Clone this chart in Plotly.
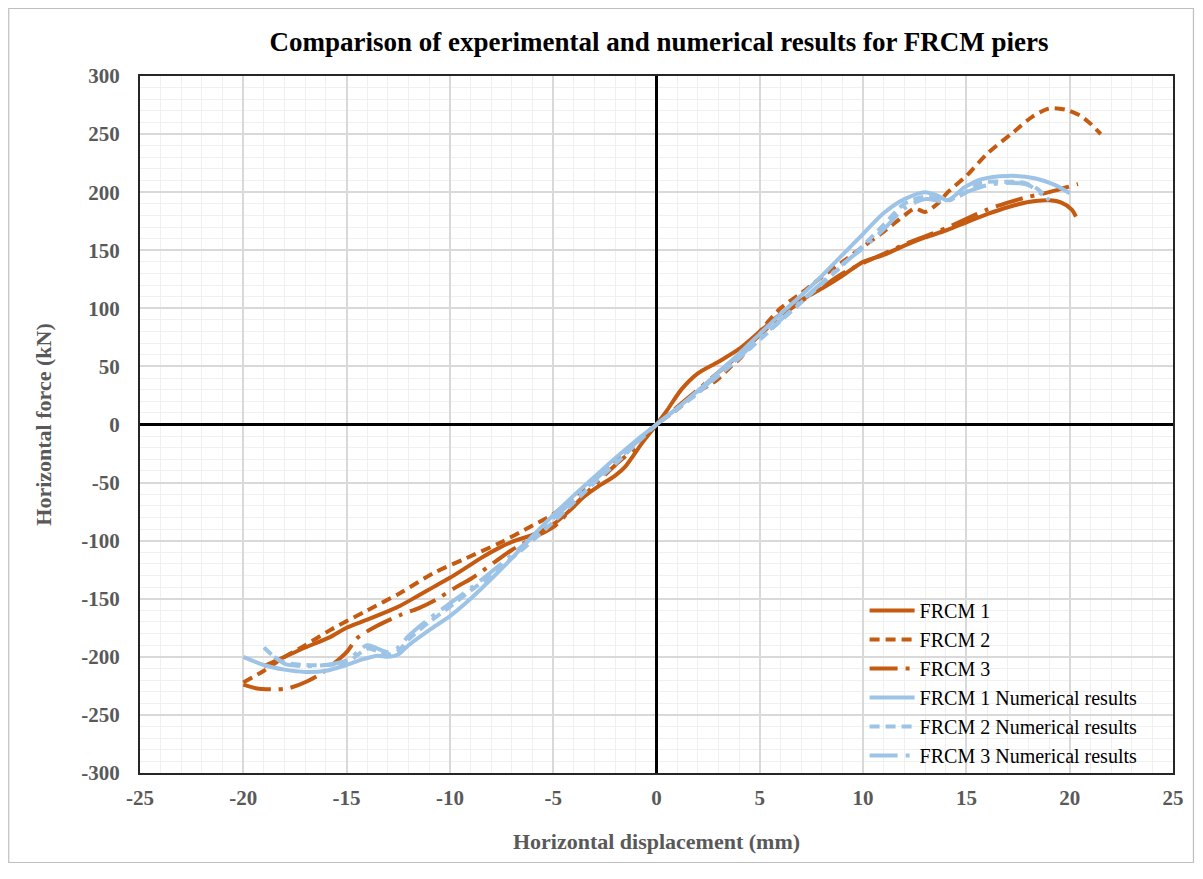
import plotly.graph_objects as go

# ---- data ----
frcm1_x = [-19.0, -18.0, -17.0, -15.8, -15.0, -14.0, -12.9, -12.4, -11.5, -10.8, -10.0, -9.2, -8.5, -7.6, -7.0, -6.0, -5.0, -4.2, -3.5, -2.8, -2.0, -1.5, -0.7, 0.0,
           0.5, 1.2, 2.0, 3.0, 4.0, 5.0, 6.0, 7.0, 8.0, 9.0, 10.0, 11.0, 12.0, 13.0, 14.0, 15.0, 16.0, 17.0, 18.0, 19.0, 19.6, 20.1, 20.3]
frcm1_y = [-208, -200, -192, -183, -175, -168, -160, -156, -147, -140, -132, -123, -115, -106, -101, -95, -86, -74, -62, -53, -44, -36, -16, 0,
           12, 30, 44, 54, 65, 80, 95, 107, 117, 128, 140, 146, 154, 161, 167, 174, 181, 187, 191.5, 193, 191, 185, 179]

frcm2_x = [-20.0, -19.0, -18.0, -17.0, -15.8, -14.0, -12.4, -10.8, -9.2, -7.6, -6.0, -4.9, -4.0, -3.0, -2.0, -1.0, 0.0,
           1.0, 2.0, 2.9, 3.6, 4.1, 5.0, 6.0, 7.0, 8.0, 9.0, 10.0, 11.0, 12.0, 12.5, 13.0, 13.6, 14.1, 15.0, 16.0, 17.3, 18.2, 19.0, 19.8, 20.5, 21.0, 21.5]
frcm2_y = [-222, -212, -200, -190, -177, -160, -145, -128, -115, -102, -87, -76, -62, -47, -32, -15, 0,
           13, 28, 38, 50, 58, 80, 100, 113, 127, 140, 153, 166, 180, 186, 183, 190, 200, 214, 233, 252, 265, 272, 271, 266, 259, 250]

frcm3_x = [-20.0, -19.4, -18.5, -17.8, -16.9, -16.2, -15.0, -14.5, -13.7, -12.4, -11.5, -10.7, -9.7, -9.0, -7.8, -7.0, -6.0, -4.9, -4.0, -3.0, -2.0, -0.7, 0.0,
           1.0, 2.0, 3.0, 4.0, 5.0, 6.0, 7.0, 8.0, 9.0, 10.0, 11.0, 12.0, 13.0, 14.0, 15.0, 16.0, 17.0, 18.0, 19.0, 19.8, 20.4]
frcm3_y = [-224, -227, -228, -227, -221, -214, -196, -184, -175, -164, -158, -151, -140, -133, -118, -108, -98, -87, -70, -52, -35, -15, 0,
           15, 30, 45, 60, 77, 93, 106, 118, 130, 139, 147, 155, 162, 169, 177, 185, 191, 196, 200, 204, 207]

num1_x = [-20.0, -19.0, -18.0, -17.0, -16.0, -15.0, -14.2, -13.5, -13.0, -12.5, -12.0, -11.0, -10.0, -9.0, -8.0, -7.0, -6.0, -5.0, -4.0, -3.0, -2.0, -1.0, 0.0,
          1.0, 2.0, 3.0, 4.0, 5.0, 6.0, 7.0, 8.0, 9.0, 10.0, 11.0, 12.0, 13.0, 13.6, 14.1, 14.9, 15.7, 17.0, 18.3, 19.3, 20.0]
num1_y = [-200, -207, -211, -213, -212, -207, -202, -199, -200, -198, -190, -177, -165, -150, -133, -115, -96, -78, -61, -45, -29, -14, 0,
          14, 29, 45, 61, 78, 95, 111, 128, 146, 164, 182, 194, 200, 197, 193, 204, 211, 214, 212, 206, 199]

num2_x = [-19.0, -18.5, -18.0, -17.0, -16.0, -15.0, -14.0, -13.5, -13.0, -12.5, -12.0, -11.0, -10.0, -9.0, -8.0, -7.0, -6.0, -5.0, -4.0, -3.0, -2.0, -1.0, 0.0,
          1.0, 2.0, 3.0, 4.0, 5.0, 6.0, 7.0, 8.0, 9.0, 10.0, 11.0, 12.0, 13.0, 14.0, 14.6, 15.7, 16.9, 17.8, 18.5, 19.0]
num2_y = [-192, -200, -205, -207, -207, -205, -193, -195, -198, -195, -185, -170, -157, -143, -130, -115, -100, -84, -67, -50, -34, -17, 0,
          13, 27, 42, 57, 73, 89, 105, 121, 137, 154, 172, 190, 196, 193, 196, 208, 209, 208, 202, 193]

num3_x = [-18.5, -18.0, -17.0, -16.0, -15.0, -14.0, -13.5, -13.0, -12.5, -12.0, -11.0, -10.0, -9.0, -8.0, -7.0, -6.0, -5.0, -4.0, -3.0, -2.0, -1.0, 0.0,
          1.0, 2.0, 3.0, 4.0, 5.0, 6.0, 7.0, 8.0, 9.0, 10.0, 11.0, 12.0, 13.0, 14.0, 15.0, 16.0, 17.0, 18.0, 18.5, 19.0]
num3_y = [-200, -206, -208, -207, -203, -190, -193, -196, -192, -182, -167, -154, -141, -127, -112, -97, -81, -65, -48, -32, -16, 0,
          14, 28, 43, 58, 74, 90, 106, 122, 138, 152, 168, 186, 194, 192, 200, 206, 208, 206, 200, 193]

series_names = ["FRCM 1", "FRCM 2", "FRCM 3",
                "FRCM 1 Numerical results", "FRCM 2 Numerical results", "FRCM 3 Numerical results"]

x_ticks = [-25, -20, -15, -10, -5, 0, 5, 10, 15, 20, 25]
y_ticks = [-300, -250, -200, -150, -100, -50, 0, 50, 100, 150, 200, 250, 300]

# ---- styling ----
ORANGE = "#C55A11"
BLUE = "#9DC3E6"
DASH = "10px,6px"
DASHDOT = "28px,8px,4px,8px"

series = [
    (frcm1_x, frcm1_y, ORANGE, "solid"),
    (frcm2_x, frcm2_y, ORANGE, DASH),
    (frcm3_x, frcm3_y, ORANGE, DASHDOT),
    (num1_x, num1_y, BLUE, "solid"),
    (num2_x, num2_y, BLUE, DASH),
    (num3_x, num3_y, BLUE, DASHDOT),
]

fig = go.Figure()
for name, (xs, ys, col, dash) in zip(series_names, series):
    fig.add_trace(go.Scatter(
        x=xs, y=ys, mode="lines", name=name,
        line=dict(color=col, width=4, dash=dash, shape="spline", smoothing=0.8),
    ))

# page has an 8px body margin; figure coordinates = reference coordinates - 8
OFF = 8
W, H = 1188, 855
L, R, T, B = 140 - OFF, 1175 - OFF, 76 - OFF, 773 - OFF

tick_font = dict(family="Liberation Serif", size=21, color="#595959", weight="bold")
title_font = dict(family="Liberation Serif", size=22, color="#595959", weight="bold")

fig.update_layout(
    width=W, height=H,
    margin=dict(l=L, r=W - R, t=T, b=H - B),
    paper_bgcolor="white", plot_bgcolor="white",
    title=dict(text="Comparison of experimental and numerical results for FRCM piers",
               font=dict(family="Liberation Serif", size=27, color="black", weight="bold"),
               x=(659 - OFF) / W, xanchor="center", xref="container",
               y=1 - (42 - OFF) / H, yanchor="middle", yref="container"),
    showlegend=True,
    legend=dict(x=(866 - OFF - L) / (R - L), y=(B - (591 - OFF)) / (B - T), xanchor="left", yanchor="top",
                bgcolor="rgba(0,0,0,0)", font=dict(family="Liberation Serif", size=20, color="black"),
                itemwidth=45, tracegroupgap=0, traceorder="normal"),
    xaxis=dict(range=[-25, 25], tickvals=x_ticks, ticktext=[str(v) for v in x_ticks],
               showgrid=True, gridcolor="#D9D9D9", gridwidth=1.5,
               minor=dict(dtick=1, showgrid=True, gridcolor="#F0F0F0", gridwidth=1),
               zeroline=True, zerolinecolor="black", zerolinewidth=2.5,
               showline=True, linecolor="#262626", linewidth=2, mirror=True,
               ticks="", tickfont=tick_font, ticklabelstandoff=5,
               title=dict(text="Horizontal displacement (mm)", font=title_font, standoff=24)),
    yaxis=dict(range=[-300, 300], tickvals=y_ticks, ticktext=[str(v) for v in y_ticks],
               showgrid=True, gridcolor="#D9D9D9", gridwidth=1.5,
               minor=dict(dtick=10, showgrid=True, gridcolor="#F0F0F0", gridwidth=1),
               zeroline=True, zerolinecolor="black", zerolinewidth=2.5,
               showline=True, linecolor="#262626", linewidth=2, mirror=True,
               ticks="", tickfont=tick_font, ticklabelstandoff=14,
               title=dict(text="Horizontal force (kN)", font=title_font, standoff=24)),
)

# outer chart border (edge of the chart area)
fig.add_shape(type="rect", xref="paper", yref="paper",
              x0=(0.5 - L) / (R - L), x1=(W - 0.5 - L) / (R - L),
              y0=(B - (H - 0.5)) / (B - T), y1=(B - 0.5) / (B - T),
              line=dict(color="#BFBFBF", width=1.2), fillcolor="rgba(0,0,0,0)", layer="below")

fig.write_html("out.html")
